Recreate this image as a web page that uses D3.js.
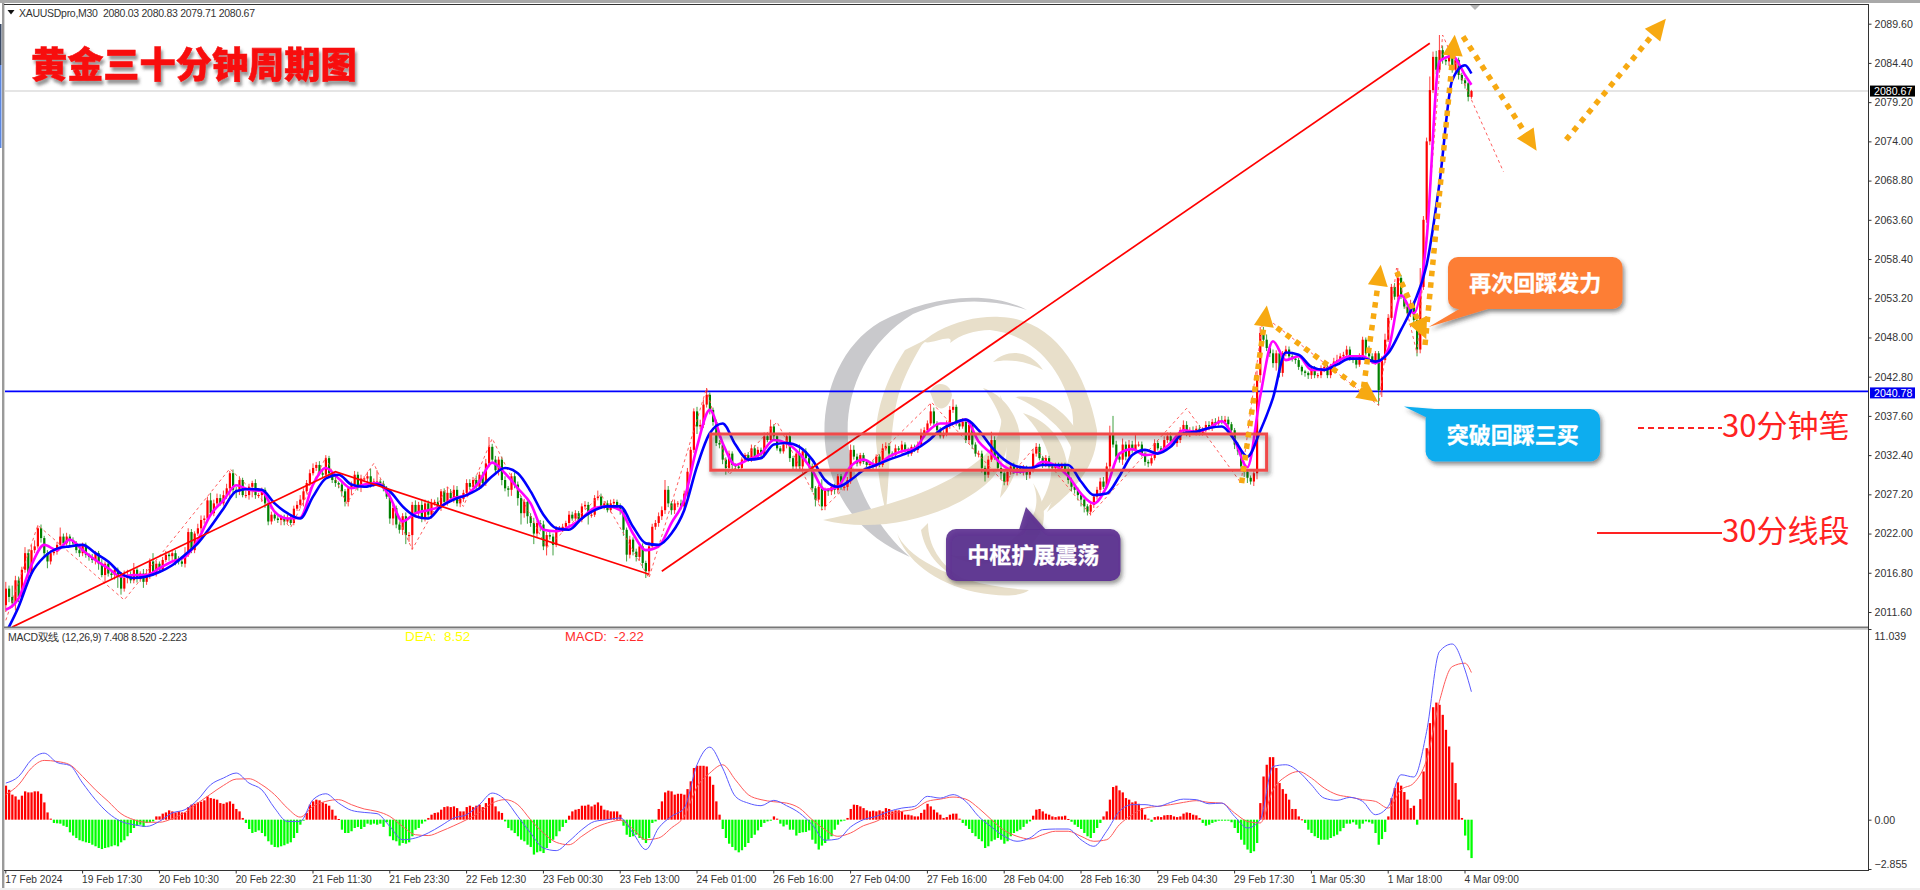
<!DOCTYPE html>
<html><head><meta charset="utf-8"><title>XAUUSD M30</title>
<script src="https://cdn.jsdelivr.net/npm/d3@7/dist/d3.min.js"></script>
<style>
html,body{margin:0;padding:0;background:#fff;overflow:hidden}
svg{display:block}
text{font-family:"Liberation Sans",Arial,sans-serif}
.cjk{font-family:"Noto Sans CJK SC",sans-serif}
</style></head><body><div id="c"></div>
<script>
const symbolHeader="XAUUSDpro,M30  2080.03 2080.83 2079.71 2080.67";
const macdHeader="MACD双线 (12,26,9) 7.408 8.520 -2.223";
const priceTicks=[2089.6,2084.4,2079.2,2074,2068.8,2063.6,2058.4,2053.2,2048,2042.8,2037.6,2032.4,2027.2,2022,2016.8,2011.6];
const macdTicks=[11.039,0,-2.855];
const timeTickBars=[0,24,48,72,96,120,144,168,192,216,240,264,288,312,336,360,384,408,432,456];
const timeTickLabels=["17 Feb 2024","19 Feb 17:30","20 Feb 10:30","20 Feb 22:30","21 Feb 11:30","21 Feb 23:30","22 Feb 12:30","23 Feb 00:30","23 Feb 13:00","24 Feb 01:00","26 Feb 16:00","27 Feb 04:00","27 Feb 16:00","28 Feb 04:00","28 Feb 16:30","29 Feb 04:30","29 Feb 17:30","1 Mar 05:30","1 Mar 18:00","4 Mar 09:00"];
const lastPrice=2080.67, levelPrice=2040.78;

const closesA=[2014.7,2013.6,2012.8,2015.8,2013.6,2017.2,2019.4,2016.7,2019.8,2020.3,
2022.7,2021.4,2019.4,2018.3,2019.4,2019.6,2020.5,2021.6,2020.7,2021.6,2021.1,
2020.7,2019.8,2019.4,2020.5,2019.2,2018.9,2018.5,2019.4,2018.0,2016.5,
2018.0,2016.7,2016.5,2017.2,2016.3,2014.7,2016.1,2016.5,2015.8,2017.2,
2016.1,2016.7,2015.6,2016.5,2018.3,2016.7,2018.0,2017.2,2018.5,2019.2,2019.0,
2019.4,2018.5,2018.3,2018.0,2019.2,2022.2,2019.8,2022.0,2022.7,2023.8,
2024.0,2026.4,2024.7,2026.0,2026.7,2026.0,2027.1,2028.0,2030.0,2027.8,
2027.6,2029.1,2027.1,2027.1,2028.2,2028.7,2027.1,2027.1,2027.8,2026.0,
2023.6,2024.5,2024.0,2023.8,2024.2,2023.6,2024.0,2023.4,2025.3,2025.8,2026.5];
const closesB=[2027.6,2028.7,2030.0,2030.7,2031.1,2030.0,2029.8,2032.0,2030.0,2029.1,
2028.7,2028.5,2027.6,2026.2,2028.0,2028.5,2029.8,2028.2,2029.3,2029.3,
2029.6,2028.5,2028.9,2028.9,2028.6,2028.0,2026.9,2024.0,2025.4,2023.2,
2022.5,2024.3,2021.8,2021.8,2025.8,2024.7,2025.8,2024.0,2026.0,2024.5,
2026.0,2026.2,2025.4,2027.6,2026.2,2027.4,2026.7,2027.8,2026.0,2026.6,
2027.4,2028.7,2028.2,2029.1,2028.2,2029.8,2028.7,2031.3,2033.5,2031.8,
2030.4,2031.8,2029.1,2028.0,2027.8,2029.6,2028.5,2026.7,2024.7,2026.2,
2024.3,2023.4,2022.0,2023.4,2023.2,2020.3,2021.8,2021.6,2020.5,2022.7,
2022.7,2022.9,2023.4,2024.5,2024.0,2024.7,2023.8,2025.6,2025.8,2024.5,
2024.5,2026.7,2026.9];
const closesC=[2025.6,2026.0,2025.1,2026.0,2026.2,2025.6,2025.1,2022.5,
2019.2,2021.2,2019.6,2018.9,2020.3,2018.1,2017.0,2020.3,2022.9,2023.4,2024.3,
2025.1,2027.8,2026.0,2025.1,2026.0,2026.0,2025.6,2027.3,2030.2,2033.1,
2038.2,2036.2,2036.4,2039.1,2040.4,2038.4,2036.8,2034.0,2033.8,2031.8,
2030.7,2032.6,2031.1,2030.9,2030.7,2031.8,2032.4,2031.8,2033.3,2032.2,
2033.1,2032.4,2034.9,2034.4,2036.2,2034.9,2033.3,2032.9,2033.8,2034.9,
2032.0,2030.9,2032.6,2030.9,2032.9,2032.0,2030.9,2028.0,2026.5,2028.2,
2025.6,2027.8,2027.6,2028.2,2027.8,2029.6,2028.2,2028.2,2029.1,2033.1,
2032.2,2031.3,2032.4,2031.5,2031.1,2031.3,2030.9,2032.2,2031.1,2033.3,
2033.6,2032.6,2032.4,2033.3,2033.1];
const closesD=[2033.8,2033.1,2032.6,2033.5,2033.1,2033.8,2035.3,2035.7,2036.6,2038.2,
2036.6,2035.7,2034.9,2035.3,2036.4,2038.4,2038.8,2036.6,2036.2,2036.8,
2034.4,2036.4,2033.8,2032.6,2032.6,2030.7,2029.8,2031.8,2034.4,2032.2,
2030.7,2030.0,2028.9,2030.2,2030.9,2030.2,2030.7,2030.2,2030.7,2029.8,
2030.4,2032.6,2033.5,2032.0,2031.1,2032.0,2030.9,2030.7,2031.1,2030.7,
2031.1,2030.4,2029.1,2028.2,2027.8,2027.1,2026.5,2025.6,2024.9,2025.8,
2026.9,2027.8,2028.9,2028.2,2030.9,2035.3,2033.8,2032.2,2031.8,2033.8,
2032.2,2033.8,2033.1,2033.8,2033.8,2032.6,2031.5,2031.3,2032.0,2034.0,
2033.3,2033.1,2034.4,2034.9,2034.2,2034.0,2034.4];
const closesE=[2035.7,2036.4,2035.2,2035.7,2035.4,2035.9,2035.3,2035.7,2036.4,2036.0,
2036.8,2036.6,2037.0,2036.8,2037.1,2036.5,2035.7,2033.8,2032.9,2030.9,
2030.2,2029.4,2028.9,2030.0,2043.0,2048.6,2047.7,2046.6,2045.9,2044.6,
2045.9,2043.3,2045.9,2046.4,2045.5,2045.2,2045.0,2044.1,2043.5,2043.3,
2043.0,2043.9,2043.0,2043.0,2043.9,2044.1,2043.0,2043.9,2044.8,2045.0,
2045.5,2045.7,2046.4,2045.2,2045.0,2044.4,2045.5,2047.7,2045.9,2045.5,
2044.8,2045.9,2041.0,2045.0,2047.7,2050.6,2054.7,2053.4,2055.9,2053.4,
2052.1,2051.2,2052.5,2050.3,2046.4,2054.7,2063.6,2074.0,2080.8,2085.2,
2083.5,2086.1,2084.8,2084.6,2085.5,2083.5,2084.8,2082.8,2082.1,2081.7,
2079.9,2080.67];
const firstOpen=2012.5;
const upperWick=[.9,.4,1.5,.6,.5,.4,.8,.5,.7,.8,.4,.5,.3,.4,.4,.3,.4,1.2,.4,.5,
.3,.4,.3,.5,.3,.3,.2,.4,.3,.3,.6,.3,.2,.4,.3,.3,.6,1.0,.7,.5,
.9,.3,.3,.6,.8,.4,1.1,.4,.3,.4,.5,.3,.3,.4,.5,.4,1.0,.5,.4,.3,
.6,.6,.4,.5,1.0,.5,.6,.5,.6,.6,.3,.5,.4,.5,.3,.6,.4,.3,.5,.3,
.3,.3,.2,.4,.2,.3,.3,.3,.5,.4,.4,.5,.6,.4,.4,.5,.6,.4,.5,.6,
.4,.3,.3,.4,.2,.5,.3,.3,.4,.5,.4,.5,.3,.6,1.0,.4,1.5,.3,.4,.3,
.6,.4,.3,.3,.4,.5,.4,.4,.6,.4,.7,.5,.4,.6,.3,.6,.3,.4,.8,.5,
.6,.5,.4,.4,.5,.5,.4,.6,.4,.4,.6,1.3,.4,.5,.4,.4,.5,.3,.4,.5,
.4,.3,.4,.5,.4,.7,.3,.4,.5,.4,.4,.4,.3,.3,.4,.3,.5,.4,.4,.3,
.4,.5,.4,.3,.4,.8,.4,.3,.4,.5,.4,.3,.4,.3,.3,.5,.3,.4,.3,.4,
.3,.6,.4,.4,.5,.5,1.3,.5,.3,.5,.3,.5,.4,.5,.4,.4,.6,.7,.7,.9,
.3,.3,.3,.4,.4,.3,.4,.3,.2,.3,.3,.3,.4,.5,.4,.4,.3,.5,.4,.9,
.3,.4,.3,.3,.4,.5,.3,.3,1.2,.4,.4,.4,.4,.3,.3,1.0,.3,.2,.3,.4,
.3,.3,.3,.4,.7,.6,.4,.3,.3,.2,.3,.4,.3,.3,.6,.5,.4,.3,.5,.3,
.5,.3,.3,.3,.3,.4,.6,.4,.4,1.0,.5,.3,.4,.4,.6,.5,1.0,.3,.4,.5,
.4,.5,.4,.3,.4,.4,.3,.5,1.1,.5,.3,.4,.3,.4,.3,.5,.4,.3,.4,.3,
.5,.6,.5,.4,.3,.4,.3,.3,.3,.3,.3,.3,.5,.3,.4,.3,.3,.2,.3,.3,
.4,.4,.5,.6,.5,1.0,2.3,.5,.4,.8,.4,.6,.5,1.5,.4,.4,.3,.3,.4,.5,
.3,.3,.5,.5,.5,.4,.5,.4,.6,.5,.4,.5,.4,.5,.4,.5,.5,.4,.5,.5,
.6,.5,.4,.3,.3,.3,.3,.3,.3,.3,.5,.6,.8,.8,.7,.5,.5,.4,.3,.3,
.5,.4,.3,.3,.3,.2,.2,.2,.4,.3,.3,.4,.4,.3,.6,.5,.7,.4,.4,.5,
.4,.3,.3,.4,.4,.3,1.0,.4,.3,.3,.5,.8,.5,.4,.5,1.3,.4,.3,.4,.5,
.3,.4,2.5,.5,.5,1.8,.7,.8,2.0,.6,.4,.5,.5,.3,.3,.3,.3,.2,.16];
const lowerWick=[.9,.7,.6,1.0,.7,.4,.4,.6,.3,.4,.3,.6,.5,.9,.4,.3,.4,.3,.4,.3,
.6,.4,.4,.5,.4,.4,.5,.4,.6,.8,.3,.9,.4,.5,.6,1.5,.8,.4,.7,.4,
.4,.6,.5,.8,.4,.5,.3,.4,.3,.3,.3,.6,.5,.7,.4,.4,.5,.3,.4,.4,
.3,.5,.5,.4,.3,.4,.3,.3,.3,.5,1.3,.4,.9,.5,.3,.4,.6,1.4,.5,.4,
.9,.6,.5,.4,.3,.4,.7,.5,.3,.3,.3,.3,.4,.9,.3,.4,.3,.4,.3,.4,
.4,.3,.4,.5,.5,.7,.6,.6,.9,.5,.5,.7,.5,.5,.4,.3,.3,.4,.4,.3,
.7,.9,.5,.5,.7,1.2,.9,1.9,.4,.7,.5,.4,.5,.5,.3,.3,.4,.4,.5,.4,
.6,.4,.5,.4,.3,.4,.6,.5,.4,.5,.4,.5,.3,.6,.7,.7,.4,.9,.8,.5,
1.0,1.5,.6,1.0,.5,1.4,.6,.9,.5,1.2,.4,1.4,.3,.3,.5,.5,.3,.3,.3,.4,
.3,.4,1.3,.4,.3,.3,.3,.4,.3,.3,.4,.3,.6,.8,.9,.5,.5,.6,.5,.7,
.9,.6,.4,.4,.5,.5,.5,.5,.6,.5,.5,.4,.4,.5,.6,.4,1.0,.4,.4,.4,
.6,.5,.4,.5,.6,.9,.5,.6,.4,.3,.3,.3,.3,.3,.4,.3,.3,.3,.3,.3,
.4,.3,.3,.3,.5,.5,.5,.4,.6,.4,.4,.3,.5,.9,.4,.5,.5,.6,.5,.6,
.5,.4,.5,.5,.5,.4,.4,.3,.3,.3,.3,.4,.3,.3,.3,.3,.3,.3,.3,.4,
.5,.3,.4,.3,.3,.4,.3,.3,.3,.3,.3,.4,.3,.3,.4,.5,.4,.3,.4,.3,
.4,.5,.6,.4,.5,.6,.9,.4,.3,.4,.4,.8,.5,.5,.4,.3,.5,.3,.5,.7,
.5,.3,.4,.3,.4,.3,.3,.3,.3,.3,.4,.4,.5,.6,.5,.7,.9,.8,.5,.5,
.4,.4,.6,.3,.3,.5,.4,.5,.4,.7,.5,.3,.4,.5,.3,.4,.5,.5,.3,.3,
.3,.4,.3,.4,.3,.3,.5,.4,.4,.3,.4,.3,.4,.3,.3,.3,.3,.4,.4,.3,
.3,.3,.4,.5,.6,.5,.6,.7,.7,.4,.6,.8,1.0,.4,.4,.5,.6,1.0,.6,.5,
.4,.4,.4,.5,.4,.5,.5,.5,.5,.4,.4,.4,.5,.4,.4,.4,.3,.3,.3,.4,
.3,.4,.5,.3,.3,.3,.4,.3,.4,2.0,.9,.4,.3,.3,.4,.4,.3,.3,.4,.5,
.4,.9,.5,.4,.4,.5,.4,.6,.4,.5,.5,.6,.4,.5,.6,.5,.7,.6,.25];

// moving averages, read every 4 bars (last point is the final bar)
const blueMA=[2008.8,2012.3,2016.7,2018.9,2020.0,2020.3,2020.5,2019.4,2018.3,2016.7,2016.1,2016.3,2016.9,2017.8,2019.2,2020.7,2022.9,2025.3,2027.6,2027.9,2027.8,2026.0,2024.7,2024.0,
2026.9,2029.3,2029.8,2028.5,2028.2,2028.5,2027.6,2025.6,2024.3,2024.0,2025.6,2026.5,2027.1,2028.0,2029.6,2030.7,2030.0,2027.6,2024.5,2022.7,2022.5,2024.0,2025.1,
2025.6,2025.6,2022.9,2020.7,2020.5,2022.0,2025.1,2030.9,2035.3,2036.6,2033.8,2031.8,2032.0,2033.8,2034.0,2033.5,2031.8,2029.1,2028.2,2029.1,2030.4,2031.1,2031.8,
2032.4,2033.1,2034.2,2035.7,2036.6,2037.1,2035.7,2033.5,2031.8,2030.9,2030.7,2031.1,2031.1,2031.1,2028.9,2027.1,2027.3,2029.6,2032.4,2033.1,2032.6,2033.5,
2035.3,2035.5,2036.0,2036.2,2034.4,2032.2,2035.6,2040.0,2046.0,2045.7,2044.1,2043.7,2044.4,2045.2,2045.2,2044.8,2045.9,2049.0,2052.5,2057.6,2068.4,2082.1,2084.1,2083.0];
const magentaMA=[2011.9,2013.4,2017.8,2020.5,2019.8,2021.2,2019.8,2018.5,2017.4,2016.3,2016.5,2016.5,2017.4,2018.3,2018.9,2021.1,2024.5,2026.4,2028.4,2027.8,2027.6,2024.9,2024.0,2024.1,
2028.5,2030.7,2029.3,2028.0,2028.5,2028.7,2026.9,2023.6,2024.7,2025.1,2025.6,2026.7,2027.1,2028.9,2031.4,2030.0,2028.0,2026.0,2022.5,2022.3,2022.9,2024.0,2025.4,
2025.6,2025.1,2022.0,2019.8,2020.3,2023.4,2026.5,2033.5,2038.4,2034.0,2031.1,2031.8,2032.6,2034.4,2034.0,2032.6,2030.4,2027.8,2028.2,2030.9,2031.8,2031.1,2032.2,
2032.9,2033.3,2035.5,2036.6,2036.6,2037.1,2034.2,2032.6,2030.9,2030.2,2030.4,2031.5,2031.0,2029.6,2027.3,2026.0,2028.2,2032.6,2033.2,2032.4,2032.7,2034.0,
2035.7,2035.5,2036.0,2036.9,2034.4,2030.8,2040.2,2047.5,2045.0,2045.5,2043.7,2043.7,2044.8,2045.5,2045.5,2044.6,2046.4,2053.6,2051.2,2061.0,2084.6,2085.3,2082.8,2081.5];
// zigzag "30分钟笔": bar index, price
const bi=[[0,2010.5],[10,2023.1],[37,2013.2],[70,2030.6],[89,2022.8],[100,2032.1],[106.5,2026.0],[115,2031.3],[127,2019.9],[138,2028.2],[143,2025.6],[152,2034.6],[169,2020.1],[186,2027.2],[201,2016.1],[219,2041.3],[226,2029.8],[241,2036.8],[255,2025.1],[289.3,2039.4],[312,2028.7],[321.6,2033.5],[339,2024.5],[369,2038.6],[386,2028.7],[393,2050.9],[429,2039.0],[434.6,2057.2],[441,2045.9],[449,2088.1],[468,2070.0]];
// "30分线段" solid segments
const segmentUp1=[[2,2009.6],[103,2030.2],[201,2016.6]];
const segmentUp2=[[205,2017.0],[445,2087.0]];
const pivotBox={x0:220.3,x1:394,top:2035.2,bottom:2030.4};
// dotted orange forecast arrows: bar index, price
const arrows=[[[386.2,2028.7],[393.2,2049.6]],[[397.2,2049.3],[423.8,2041.0]],[[424.3,2041.4],[428.8,2055.0]],[[434.7,2056.7],[441.4,2050.2]],[[443.5,2047.0],[452.2,2085.5]],[[455.4,2087.9],[475,2075.0]],[[487.6,2074.2],[514.8,2088.2]]];

const histogram=[1.97,1.73,1.45,1.35,1.16,1.39,1.64,1.58,1.58,1.64,1.64,1.5,1.0,.42,.06,-.19,-.21,-.23,-.35,-.42,
-.73,-.92,-1.06,-1.19,-1.25,-1.31,-1.35,-1.45,-1.54,-1.64,-1.7,-1.64,-1.6,-1.54,-1.48,-1.54,-1.31,-1.19,-.96,-.77,
-.48,-.35,-.29,-.42,-.19,-.15,-.1,.19,.19,.35,.42,.54,.48,.42,.48,.42,.42,.73,.87,.92,
1.0,1.04,1.12,1.35,1.25,1.21,1.16,.96,.92,1.0,1.06,.92,.62,.48,.1,-.19,-.54,-.77,-.71,-.62,
-.77,-.96,-1.25,-1.45,-1.58,-1.6,-1.54,-1.48,-1.39,-1.31,-1.06,-.77,-.29,-.04,.39,.87,1.06,1.16,1.12,1.0,
.92,.81,.58,.23,.04,-.58,-.77,-.77,-.67,-.48,-.42,-.54,-.42,-.23,-.29,-.23,-.29,-.23,-.42,-.15,
-.96,-1.19,-1.25,-1.5,-1.35,-1.39,-1.31,-.96,-.58,-.48,-.23,-.1,.1,.29,.39,.42,.58,.73,.77,.73,
.77,.67,.48,.48,.73,.81,.73,.81,.87,.73,.96,1.25,1.29,.77,.48,.39,-.1,-.48,-.62,-.77,
-.96,-1.16,-1.25,-1.45,-1.58,-2.02,-1.89,-1.83,-1.93,-1.64,-1.35,-1.16,-.96,-.67,-.42,-.19,.23,.48,.58,.62,
.81,.81,.87,.77,.87,1.0,.81,.58,.54,.48,.48,.48,.29,-.35,-.87,-1.0,-.96,-.87,-1.06,-1.16,
-1.35,-1.06,-.19,-.1,.62,1.06,1.58,1.68,1.64,1.45,1.5,1.5,1.45,1.77,2.22,2.99,3.12,3.12,3.12,3.08,
2.5,2.02,1.06,.29,-.54,-1.06,-1.39,-1.58,-1.77,-1.89,-1.77,-1.58,-1.35,-1.06,-.87,-.62,-.42,-.19,-.1,-.06,
.19,.06,-.23,-.39,-.29,-.58,-.58,-.92,-.77,-.73,-.71,-.62,-1.16,-1.39,-1.73,-1.5,-1.35,-1.16,-.96,-.58,
-.29,-.1,-.04,.1,.62,.87,.85,.77,.67,.54,.48,.52,.48,.54,.48,.67,.62,.48,.54,.54,
.48,.29,.29,.25,.19,.19,.39,.58,.92,.77,.58,.42,.29,.1,.15,.29,.35,.35,.06,-.19,
-.35,-.54,-.77,-.96,-1.12,-1.25,-1.64,-1.54,-1.25,-1.16,-1.06,-1.16,-1.39,-1.25,-.96,-.77,-.67,-.58,-.42,-.23,
-.1,.23,.58,.62,.48,.35,.29,.19,.15,.19,.19,.23,.04,-.12,-.29,-.42,-.54,-.77,-.96,-1.06,
-.77,-.48,-.19,.19,.48,1.16,1.89,1.97,1.7,1.58,1.25,1.16,1.0,1.06,.92,.67,.29,.06,-.12,.15,
.19,.15,.25,.27,.27,.19,.15,.19,.35,.42,.39,.29,.25,.1,-.19,-.35,-.29,-.19,-.12,-.06,
-.02,-.02,-.04,-.15,-.48,-.77,-1.16,-1.45,-1.73,-1.93,-1.83,-1.35,.96,2.5,3.18,3.62,3.62,2.99,2.12,1.77,
1.5,1.16,.62,.62,.19,.02,-.19,-.58,-.77,-.96,-1.06,-1.16,-1.16,-1.16,-1.06,-.96,-.87,-.67,-.48,-.23,
-.23,-.15,-.29,-.52,-.23,-.1,-.15,-.23,-.77,-1.45,-1.12,-.71,.19,1.25,1.83,2.16,1.97,1.6,1.16,.67,
.81,-.29,1.19,2.79,4.14,5.59,6.51,6.78,6.65,6.07,5.2,4.24,3.31,2.12,1.16,.1,-.92,-1.77,-2.223];
const macdLine=[2.12,2.5,3.47,3.85,3.31,3.14,2.12,1.16,.39,-.1,-.29,-.39,-.1,.39,.58,1.16,2.02,2.41,2.7,2.12,1.73,.67,-.1,-.1,
1.16,1.5,.96,.54,.42,.35,-.39,-1.16,-1.06,-.77,-.35,.1,.29,.87,1.54,1.16,.19,-.77,-1.64,-1.79,-1.25,-.58,-.1,
0,.1,-.77,-1.73,-.48,.19,.67,3.18,4.2,2.99,1.35,.96,.81,1.12,.81,.39,-.29,-1.19,-1.12,-.42,0,.19,.48,
.67,.77,1.35,1.25,1.45,1.06,.19,-.42,-.96,-1.25,-1.06,-.58,-.54,-.54,-1.16,-1.54,-.67,.48,.87,.87,.77,1.0,
1.19,1.16,.92,.96,.19,-.48,0,3.08,3.18,2.79,2.02,1.25,1.12,1.29,1.06,.29,.77,2.6,2.47,5.1,9.73,10.17,8.67,7.408];
const deaLine=[1.45,2.02,2.99,3.43,3.37,3.18,2.5,1.73,1.06,.35,0,-.15,-.15,.06,.42,.96,1.48,1.98,2.35,2.37,2.02,1.45,.67,.15,
.77,1.06,1.16,.87,.62,.48,.19,-.39,-.87,-.92,-.67,-.35,0,.42,.96,1.16,.87,0,-.77,-1.31,-1.45,-.96,-.48,
-.19,-.04,-.54,-1.16,-1.06,-.48,.19,1.9,2.7,3.18,2.31,1.45,1.16,1.04,.96,.67,0,-.58,-.96,-.77,-.35,-.1,.29,
.48,.62,1.06,1.19,1.31,1.19,.67,0,-.62,-.96,-1.12,-.87,-.67,-.67,-.96,-1.25,-1.16,-.29,.29,.67,.77,.87,
1.0,1.1,1.0,.96,.39,-.1,-.19,1.73,2.5,2.79,2.41,1.83,1.45,1.31,1.16,1.06,.67,1.73,2.12,3.47,6.84,8.86,9.06,8.52];

const W=1920,H=890;
const paneL=4,paneR=1868,mainTop=4,mainBottom=627,subTop=629,subBottom=869;
const RED="#ff0000",GREEN="#008000";
const closes=[...closesA,...closesB,...closesC,...closesD,...closesE];
const bars=closes.map((c,i)=>{const o=i?closes[i-1]:firstOpen;
  return {i,o,c,h:Math.max(o,c)+(upperWick[i]??.3),l:Math.min(o,c)-(lowerWick[i]??.3)};});
const lineIdx=k=>Math.min(k*4,458);

const x=d3.scaleLinear().domain([0,458]).range([5.8,5.8+3.2*458]);
const y=d3.scaleLinear().domain([2011.6,2089.6]).range([612,23.7]);
const m=d3.scaleLinear().domain([-2.855,11.039]).range([subBottom,subTop]);

const svg=d3.select("#c").append("svg").attr("width",W).attr("height",H).attr("viewBox",`0 0 ${W} ${H}`);
const defs=svg.append("defs");
defs.append("clipPath").attr("id","mainClip").append("rect").attr("x",paneL+1).attr("y",mainTop).attr("width",paneR-paneL-1).attr("height",mainBottom-mainTop);
defs.append("clipPath").attr("id","subClip").append("rect").attr("x",paneL+1).attr("y",subTop).attr("width",paneR-paneL-1).attr("height",subBottom-subTop);
const mk=defs.append("marker").attr("id","head").attr("markerUnits","userSpaceOnUse").attr("markerWidth",28).attr("markerHeight",28).attr("refX",3).attr("refY",14).attr("orient","auto");
mk.append("path").attr("d","M2,4 L23,14 L2,24 Z").attr("fill","#f7a911");
const sh=(id,dx,dy,b,c)=>{const f=defs.append("filter").attr("id",id).attr("x","-20%").attr("y","-30%").attr("width","140%").attr("height","170%");
 f.append("feDropShadow").attr("dx",dx).attr("dy",dy).attr("stdDeviation",b).attr("flood-color",c).attr("flood-opacity",.55);};
sh("shadow",2,3,2,"#333");sh("titleShadow",2,4,1.6,"#444");

// window chrome
svg.append("rect").attr("width",W).attr("height",H).attr("fill","#fff");
svg.append("rect").attr("x",0).attr("y",0).attr("width",W).attr("height",3).attr("fill","#a9a9a9");
svg.append("rect").attr("x",2).attr("y",3).attr("width",2.4).attr("height",H-3).attr("fill","#9a9a9a");
svg.append("rect").attr("x",0).attr("y",24).attr("width",1.5).attr("height",41).attr("fill","#3a4a66");
svg.append("rect").attr("x",0).attr("y",65).attr("width",1.5).attr("height",83).attr("fill","#5b86e0");
svg.append("rect").attr("x",0).attr("y",H-2).attr("width",W).attr("height",2).attr("fill","#f0f0f0");
svg.append("path").attr("d",`M1469,4 L1481,4 L1475,10 Z`).attr("fill","#b5b5b5");

// watermark
const wm=svg.append("g");
wm.append("path").attr("fill","#c9c9cc").attr("d","M1027,310 C985,288 925,298 880,322 C830,352 815,420 830,470 C845,520 878,543 910,557 C882,533 858,495 849,450 C842,400 862,345 913,314 C950,298 990,298 1027,310 Z");
const beige=wm.append("g").attr("fill","#e8dfca");
[
"M900,372 C915,335 960,315 1000,317 C1050,318 1085,365 1097,430 C1098,465 1075,490 1047,512 C1060,485 1078,450 1072,410 C1062,370 1035,335 990,330 C975,330 960,335 950,343 C955,332 930,345 925,342 C915,350 908,360 900,372 Z",
"M905,350 C885,380 872,420 877,450 C878,480 882,495 886,512 C890,470 890,420 900,390 C905,375 915,355 925,340 Z",
"M823,520 C870,510 940,495 985,455 C1000,440 1005,420 1000,395 C1015,425 1010,465 985,485 C950,515 880,535 823,520 Z",
"M983,388 C1005,395 1022,420 1020,445 C1020,465 1012,485 1000,498 C1005,470 1010,445 1003,425 C998,410 992,398 983,388 Z",
"M1015,397 C1045,393 1072,415 1084,445 C1090,460 1082,470 1077,478 C1078,455 1068,435 1050,420 C1040,410 1028,402 1015,397 Z",
"M1023,413 C1045,420 1062,435 1067,463 C1068,485 1050,510 1028,523 C1045,500 1055,478 1050,460 C1045,440 1035,425 1023,413 Z",
"M993,362 C1008,348 1030,350 1043,370 C1028,362 1010,358 993,362 Z",
"M1033,483 C1048,505 1048,530 1030,545 C1010,565 975,570 950,555 C980,560 1015,545 1030,520 C1038,510 1038,495 1033,483 Z",
"M897,533 C905,555 950,585 1029,590 C1020,597 1000,597 975,592 C935,583 905,560 897,533 Z",
"M928,523 C928,545 940,565 962,578 C945,575 925,555 921,530 Z",
"M930,392 C935,380 950,382 952,395 C950,408 940,412 935,405 Z"
].forEach(d=>beige.append("path").attr("d",d));

// main pane
const main=svg.append("g").attr("clip-path","url(#mainClip)");
main.append("line").attr("x1",paneL).attr("x2",paneR).attr("y1",y(lastPrice)).attr("y2",y(lastPrice)).attr("stroke","#dddddd").attr("stroke-width",1.4);
main.append("line").attr("x1",paneL).attr("x2",paneR).attr("y1",y(levelPrice)-.5).attr("y2",y(levelPrice)-.5).attr("stroke","#0000ff").attr("stroke-width",1.8);
// candles
main.append("g").selectAll("line").data(bars).join("line")
 .attr("x1",d=>x(d.i)).attr("x2",d=>x(d.i)).attr("y1",d=>y(d.h)).attr("y2",d=>y(d.l))
 .attr("stroke",d=>d.c>=d.o?RED:GREEN).attr("stroke-width",1).attr("opacity",.75);
main.append("g").selectAll("rect").data(bars).join("rect")
 .attr("x",d=>x(d.i)-1).attr("width",2.2)
 .attr("y",d=>y(Math.max(d.o,d.c))).attr("height",d=>Math.max(1,Math.abs(y(d.o)-y(d.c))))
 .attr("fill",d=>d.c>=d.o?RED:GREEN);
const line=d3.line().x(d=>x(d[0])).y(d=>y(d[1]));
const curve=d3.line().x(d=>x(d[0])).y(d=>y(d[1])).curve(d3.curveMonotoneX);
main.append("path").attr("d",line(bi)).attr("fill","none").attr("stroke","#ff4d4d").attr("stroke-width",.9).attr("stroke-dasharray","3 3");
main.append("path").attr("d",curve(magentaMA.map((v,k)=>[lineIdx(k),v]))).attr("fill","none").attr("stroke","#ff00ff").attr("stroke-width",2.6);
main.append("path").attr("d",curve(blueMA.map((v,k)=>[lineIdx(k),v]))).attr("fill","none").attr("stroke","#0000ff").attr("stroke-width",2.6);
[segmentUp1,segmentUp2].forEach(s=>main.append("path").attr("d",line(s)).attr("fill","none").attr("stroke",RED).attr("stroke-width",1.7));
// pivot box
main.append("rect").attr("x",x(pivotBox.x0)).attr("y",y(pivotBox.top)).attr("width",x(pivotBox.x1)-x(pivotBox.x0)).attr("height",y(pivotBox.bottom)-y(pivotBox.top))
 .attr("fill","none").attr("stroke","#f04848").attr("stroke-width",3).attr("filter","url(#shadow)");
// dotted arrows
arrows.forEach(a=>main.append("path").attr("d",line(a)).attr("fill","none").attr("stroke","#f7a911").attr("stroke-width",5.5).attr("stroke-dasharray","5.5 6").attr("marker-end","url(#head)"));

// callouts
function callout(bx,by,bw,bh,fill,tail,label,op){
 const g=svg.append("g").attr("filter","url(#shadow)");
 g.append("path").attr("d",tail).attr("fill",fill).attr("opacity",op);
 g.append("rect").attr("x",bx).attr("y",by).attr("width",bw).attr("height",bh).attr("rx",10).attr("fill",fill).attr("opacity",op);
 svg.append("text").attr("class","cjk").attr("x",bx+bw/2).attr("y",by+bh/2+8).attr("text-anchor","middle").attr("font-size",22).attr("font-weight",700).attr("fill","#fff").attr("stroke","#fff").attr("stroke-width",.3).text(label);
}
callout(946,529,174.5,52,"#5a2e90","M1019,530 L1026,507 L1046,530 Z","中枢扩展震荡",.9);
callout(1448,257,174.5,52,"#fd7e35","M1461,308 L1428.6,327 L1491,308 Z","再次回踩发力",1);
callout(1425.6,409,174.5,52.5,"#10adef","M1425.6,417 L1404,406.5 L1447,410 Z","突破回踩三买",1);

// title
svg.append("text").attr("class","cjk").attr("x",31).attr("y",77.5).attr("font-size",36.2).attr("font-weight",900).attr("fill","#f80d0d").attr("stroke","#f80d0d").attr("stroke-width",.6).attr("filter","url(#titleShadow)").text("黄金三十分钟周期图");
// header
svg.append("path").attr("d","M7.5,10 L14.5,10 L11,14.5 Z").attr("fill","#111");
svg.append("text").attr("x",19).attr("y",16.5).attr("font-size",10.5).attr("fill","#333").style("white-space","pre").attr("textLength",236).attr("lengthAdjust","spacing").text(symbolHeader);

// right legends
const legend=[{txt:"30分钟笔",y:426,x0:1638,dash:"6 4"},{txt:"30分线段",y:531,x0:1597,dash:null}];
legend.forEach(l=>{
 svg.append("text").attr("class","cjk").attr("x",1722).attr("y",l.y+11).attr("font-size",31).attr("fill","#f22").text(l.txt);
 const ln=svg.append("line").attr("x1",l.x0).attr("x2",1722).attr("y1",l.y+2).attr("y2",l.y+2).attr("stroke","#f22").attr("stroke-width",2);
 if(l.dash) ln.attr("stroke-dasharray",l.dash);
});

// MACD pane
const sub=svg.append("g").attr("clip-path","url(#subClip)");
sub.append("g").selectAll("rect").data(histogram).join("rect")
 .attr("x",(d,i)=>x(i)-1).attr("width",2.3)
 .attr("y",d=>d>=0?m(d):m(0)).attr("height",d=>Math.max(1,Math.abs(m(d)-m(0))))
 .attr("fill",d=>d>=0?"#ff0000":"#00ff00");
const mline=d3.line().x(d=>x(d[0])).y(d=>m(d[1])).curve(d3.curveMonotoneX);
sub.append("path").attr("d",mline(deaLine.map((v,k)=>[lineIdx(k),v]))).attr("fill","none").attr("stroke","#ff5a5a").attr("stroke-width",1);
sub.append("path").attr("d",mline(macdLine.map((v,k)=>[lineIdx(k),v]))).attr("fill","none").attr("stroke","#5a5aff").attr("stroke-width",1);
svg.append("text").attr("x",8).attr("y",641).attr("font-size",10.5).attr("fill","#333").attr("textLength",179).attr("lengthAdjust","spacing").text(macdHeader);
svg.append("text").attr("x",405).attr("y",641).attr("font-size",13.5).attr("fill","#ffff00").style("white-space","pre").text("DEA:  8.52");
svg.append("text").attr("x",565).attr("y",641).attr("font-size",13).attr("fill","#ff2a2a").style("white-space","pre").text("MACD:  -2.22");

// frame
const fr=svg.append("g").attr("stroke-width",1);
fr.append("rect").attr("x",paneL).attr("y",626.5).attr("width",paneR-paneL).attr("height",2).attr("fill","#777");
fr.append("rect").attr("x",paneL).attr("y",628.5).attr("width",paneR-paneL).attr("height",1.4).attr("fill","#cfcfcf");
fr.append("line").attr("x1",paneR+.5).attr("x2",paneR+.5).attr("y1",4).attr("y2",870).attr("stroke","#333");
fr.append("line").attr("x1",paneL).attr("x2",paneR+1).attr("y1",870.5).attr("y2",870.5).attr("stroke","#333");
fr.append("line").attr("x1",paneL).attr("x2",paneR+1).attr("y1",4.5).attr("y2",4.5).attr("stroke","#333");

// axes
const fmt=d=>d.toFixed(2);
const priceAxis=d3.axisRight(y).tickValues(priceTicks).tickFormat(fmt).tickSize(3).tickPadding(3);
const ga=svg.append("g").attr("transform",`translate(${paneR+.5},0)`).call(priceAxis);
ga.select(".domain").remove();
ga.selectAll("text").attr("font-size",10.6).attr("fill","#333").attr("font-family","Liberation Sans");
ga.selectAll("line").attr("stroke","#333");
const tA=d3.axisBottom(x).tickValues(timeTickBars).tickFormat(d=>timeTickLabels[timeTickBars.indexOf(d)]).tickSize(3);
const gt=svg.append("g").attr("transform","translate(0,870.5)").call(tA);
gt.select(".domain").remove();
gt.selectAll("line").attr("stroke","#333").attr("transform","translate(-.5,0)");
gt.selectAll("text").attr("text-anchor","start").attr("font-size",10.2).attr("fill","#333").attr("font-family","Liberation Sans").attr("y",5).attr("dy",".71em").attr("transform","translate(-1,0)");
const mA=d3.axisRight(m).tickValues(macdTicks).tickFormat(d=>d===0?"0.00":d3.format(".3f")(d)).tickSize(3).tickPadding(3);
const gm=svg.append("g").attr("transform",`translate(${paneR+.5},0)`).call(mA);
gm.select(".domain").remove();
gm.selectAll("line").attr("stroke","#333");
gm.selectAll("text").attr("font-size",10.6).attr("fill","#333").attr("font-family","Liberation Sans").attr("transform",d=>`translate(0,${d>5?7:d<0?-5:0})`);
// price tags
[[lastPrice,"#000"],[levelPrice,"#0000ee"]].forEach(([p,c])=>{
 const cy=y(p)+(p===levelPrice?1:0);
 svg.append("rect").attr("x",1870).attr("y",cy-5.5).attr("width",45).attr("height",11).attr("fill",c);
 svg.append("text").attr("x",1874).attr("y",cy+4).attr("font-size",10.6).attr("fill","#fff").text(p.toFixed(2));
});
</script></body></html>
